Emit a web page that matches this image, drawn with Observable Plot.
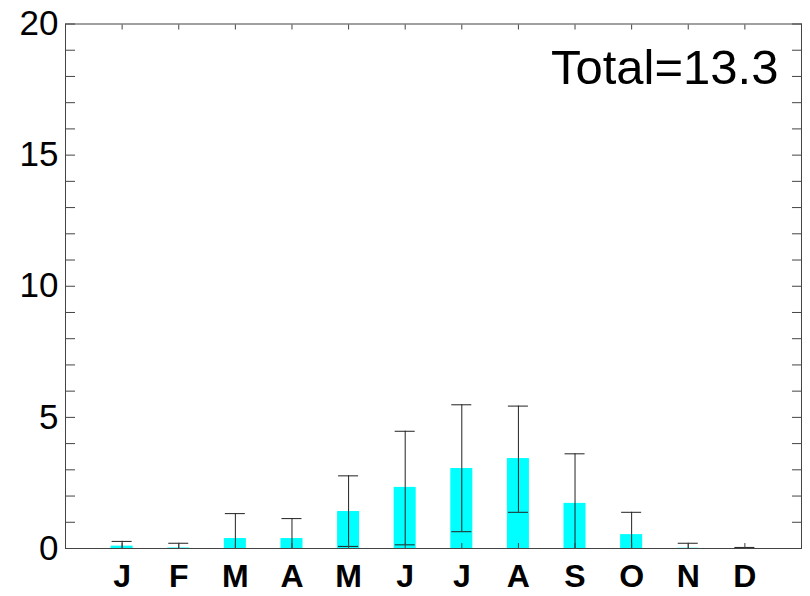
<!DOCTYPE html>
<html>
<head>
<meta charset="utf-8">
<script src="https://cdn.jsdelivr.net/npm/d3@7"></script>
<script src="https://cdn.jsdelivr.net/npm/@observablehq/plot@0.6"></script>
<style>
  html, body { margin: 0; padding: 0; background: #fff; }
  #chart svg { display: block; }
</style>
</head>
<body>
<div id="chart"></div>
<script>
const monthKeys = ["Jan","Feb","Mar","Apr","May","Jun","Jul","Aug","Sep","Oct","Nov","Dec"];
const monthLabels = ["J","F","M","A","M","J","J","A","S","O","N","D"];
const values = [0.09, 0.02, 0.38, 0.38, 1.41, 2.33, 3.05, 3.43, 1.72, 0.53, 0.01, 0.00];
const errHigh = [0.27, 0.20, 1.33, 1.14, 2.77, 4.47, 5.48, 5.43, 3.61, 1.38, 0.20, 0.04];
const errLow = [0.00, 0.00, 0.00, 0.00, 0.08, 0.14, 0.64, 1.38, 0.00, 0.00, 0.00, 0.00];
const yMajorTicks = [0, 5, 10, 15, 20];
const yMinorTicks = [0,1,2,3,4,5,6,7,8,9,10,11,12,13,14,15,16,17,18,19,20];
const totalLabel = "Total=13.3";

const data = monthKeys.map((m, i) => ({
  month: m, value: values[i], hi: errHigh[i], lo: errLow[i]
}));
const lowCaps = data.filter(d => d.lo > 0);

const font = "'Liberation Sans', Arial, Helvetica, sans-serif";
const axisColor = "#444";

const chart = Plot.plot({
  width: 810,
  height: 596,
  marginLeft: 65,
  marginRight: 9,
  marginTop: 23.5,
  marginBottom: 48,
  style: { fontFamily: font, background: "#fff", color: "#000" },
  x: { type: "band", domain: monthKeys, paddingInner: 0.611, paddingOuter: 0.806, round: false },
  y: { domain: [0, 20] },
  marks: [
    Plot.barY(data, { x: "month", y: "value", fill: "#00ffff" }),
    Plot.ruleX(data, { x: "month", y1: "lo", y2: "hi", stroke: "#222", strokeWidth: 1 }),
    Plot.tickY(data, { x: "month", y: "hi", stroke: "#222", strokeWidth: 1, insetLeft: 1, insetRight: 1 }),
    Plot.tickY(lowCaps, { x: "month", y: "lo", stroke: "#222", strokeWidth: 1, insetLeft: 1, insetRight: 1 }),
    Plot.frame({ stroke: axisColor, strokeWidth: 1 }),
    Plot.axisY({ anchor: "left", ticks: yMinorTicks, tickSize: -10, text: null, stroke: axisColor, label: null }),
    Plot.axisY({ anchor: "right", ticks: yMinorTicks, tickSize: -10, text: null, stroke: axisColor, label: null }),
    Plot.axisY({ anchor: "left", ticks: yMajorTicks, tickSize: 0, tickPadding: 7, fontSize: 35, fill: "#000", label: null }),
    Plot.axisX({ anchor: "top", tickSize: -5, text: null, stroke: axisColor, label: null }),
    Plot.axisX({ anchor: "bottom", tickSize: -5, text: null, stroke: axisColor, label: null }),
    Plot.axisX({ anchor: "bottom", tickSize: 0, tickPadding: 16, fontSize: 32, fontWeight: "bold", fill: "#000",
                 tickFormat: (d) => monthLabels[monthKeys.indexOf(d)], label: null }),
    Plot.text([totalLabel], { frameAnchor: "top-right", lineAnchor: "top", textAnchor: "end",
                              dx: -23, dy: 25, fontSize: 49, fill: "#000" })
  ]
});
document.getElementById("chart").appendChild(chart);
</script>
</body>
</html>
